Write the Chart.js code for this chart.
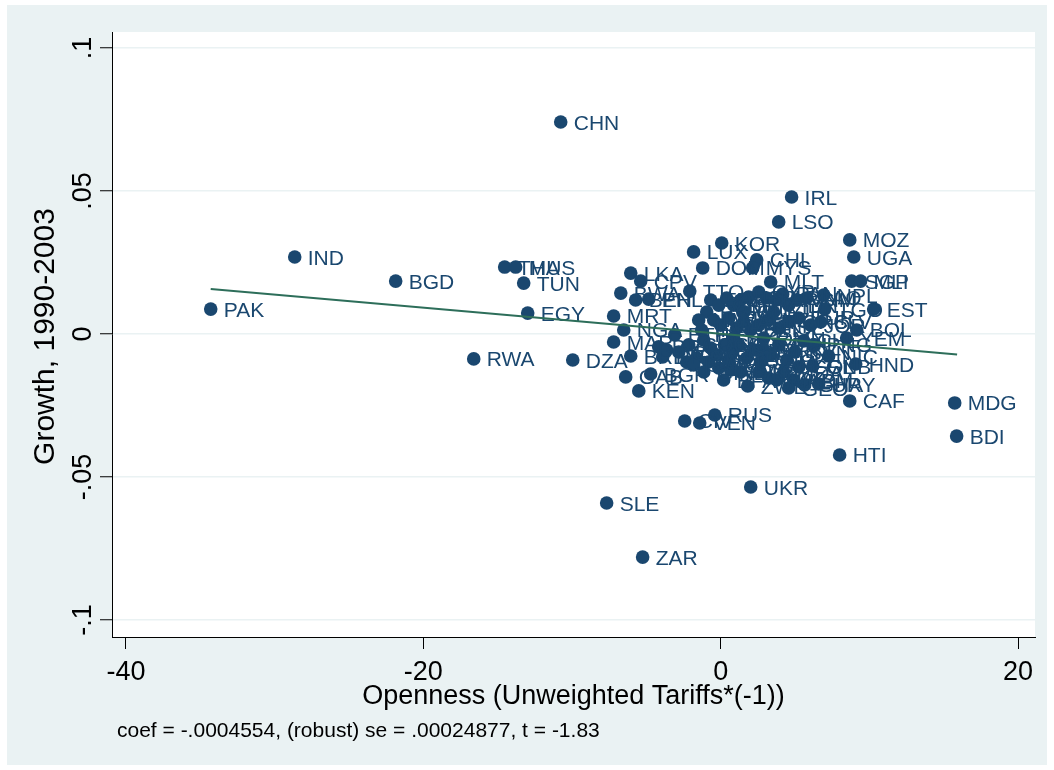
<!DOCTYPE html>
<html>
<head>
<meta charset="utf-8">
<script src="https://cdn.jsdelivr.net/npm/chart.js@4/dist/chart.umd.min.js"></script>
<style>
  html, body { margin: 0; padding: 0; background: #ffffff; }
  #wrap { width: 1054px; height: 770px; }
</style>
</head>
<body>
<div id="wrap"><canvas id="c" width="1054" height="770"></canvas></div>
<script>
// Country codes, openness (unweighted tariffs * -1, residualised) and growth 1990-2003
const countryCodes = [
  'CHN','IRL','LSO','MOZ','UGA','IND','BGD','PAK','THA','MUS',
  'TUN','EGY','RWA','DZA','SLE','ZAR','UKR','HTI','MDG','BDI',
  'CAF','RUS','CIV','VEN','KEN','GAB','BGR','BRB','PRY','MAR',
  'BRA','NGA','MRT','BWA','LKA','CPV','BEN','PHL','TTO','LUX',
  'KOR','DOM','CHL','MYS','MLT','SGP','MLI','NPL','EST','TGO',
  'SLV','BOL','YEM','NIC','HND','GNB','COL','URY','GHA','ZWE',
  'GMB','ROM','SVK','CHE','PAN',
  'FRA','GBR','AUS','NOR','FIN','ISR','CYP','NLD','ARG','IDN',
  'VNM','LAO','USA','CAN','ESP','PRT','AUT','BEL','DNK','NZL',
  'ISL','GRC','TUR','JOR','DEU','JPN','SWE','MEX','CRI','GTM',
  'ECU','PER','JAM','HUN','POL','CZE','SVN','HRV','LVA','LTU',
  'BLR','KAZ','KGZ','MDA','ARM','GEO','IRN','SYR','OMN','PNG',
  'NER','CMR','COG','MWI','TZA','ETH','NAM','SWZ','GIN','FJI',
  'GUY','BFA','MKD'
];
const openness = [
  -10.76, 4.77, 3.90, 8.68, 8.95, -28.65, -21.86, -34.30, -14.53, -13.79,
  -13.25, -12.98, -16.61, -9.95, -7.67, -5.25, 2.02, 8.00, 15.74, 15.87,
  8.68, -0.40, -2.42, -1.41, -5.51, -6.39, -4.71, -6.05, -3.90, -7.20,
  -4.17, -6.52, -7.20, -6.72, -6.05, -5.38, -5.72, -4.84, -2.08, -1.82,
  0.07, -1.21, 2.42, 2.15, 3.36, 8.81, 9.41, 6.93, 10.29, 6.99,
  6.72, 9.15, 8.47, 7.26, 9.08, 6.19, 5.25, 6.59, 5.65, 1.82,
  0.67, -0.94, 2.89, 5.58, 4.17,
  -0.67, -0.13, 0.40, 0.87, 1.34, 1.88, 2.56, 3.09, 3.77, 4.57,
  5.11, 5.78, -0.47, 0.00, 0.54, 1.08, 1.55, 2.02, 2.56, 3.23,
  3.90, 4.57, 5.25, 6.05, -1.14, -0.67, -0.27, 0.27, 0.81, 1.21,
  1.75, 2.29, 2.69, 3.36, 3.90, 4.44, 4.98, -0.81, -0.13, 0.54,
  1.34, 2.56, 3.23, 4.24, 4.91, 4.57, -1.28, 0.87, 2.89, 6.25,
  -3.63, -2.82, -2.15, -1.61, -2.29, -3.09, -1.48, -1.82, -1.14, 3.56,
  1.55, 0.20, 3.77
];
const growth = [
  0.0741, 0.0479, 0.0392, 0.0329, 0.0269, 0.0269, 0.0185, 0.0087, 0.0234, 0.0234,
  0.0178, 0.0073, -0.0087, -0.0091, -0.0591, -0.0780, -0.0535, -0.0423, -0.0241, -0.0357,
  -0.0234, -0.0283, -0.0304, -0.0311, -0.0199, -0.0150, -0.0140, -0.0077, -0.0080, -0.0028,
  -0.0045, 0.0014, 0.0063, 0.0143, 0.0213, 0.0185, 0.0119, 0.0122, 0.0150, 0.0287,
  0.0318, 0.0231, 0.0259, 0.0231, 0.0182, 0.0185, 0.0185, 0.0136, 0.0087, 0.0087,
  0.0042, 0.0014, -0.0014, -0.0077, -0.0105, -0.0112, -0.0115, -0.0175, -0.0178, -0.0182,
  -0.0126, 0.0077, -0.0056, -0.0024, 0.0140,
  0.0119, 0.0101, 0.0126, 0.0101, 0.0119, 0.0129, 0.0147, 0.0126, 0.0119, 0.0101,
  0.0119, 0.0126, 0.0049, 0.0031, 0.0056, 0.0021, 0.0042, 0.0014, 0.0031, 0.0049,
  0.0021, 0.0042, 0.0056, 0.0031, -0.0021, -0.0049, -0.0073, -0.0038, -0.0063, -0.0038,
  -0.0084, -0.0056, -0.0098, -0.0073, -0.0038, -0.0091, -0.0063, -0.0098, -0.0119, -0.0091,
  -0.0133, -0.0133, -0.0154, -0.0133, -0.0161, -0.0189, 0.0014, -0.0014, -0.0014, -0.0038,
  -0.0056, -0.0063, -0.0038, -0.0084, -0.0098, -0.0003, 0.0049, -0.0108, -0.0133, 0.0077,
  0.0077, -0.0161, -0.0161
];

// Fitted regression line end points
const fitOpenness = [-34.30, 15.90];
const fitGrowth = [0.0157, -0.0072];

// Axis ticks
const xTickValues = [-40, -20, 0, 20];
const xTickLabels = ['-40', '-20', '0', '20'];
const yTickValues = [-0.1, -0.05, 0, 0.05, 0.1];
const yTickLabels = ['-.1', '-.05', '0', '.05', '.1'];

const xTitle = 'Openness (Unweighted Tariffs*(-1))';
const yTitle = 'Growth, 1990-2003';
const noteText = 'coef = -.0004554, (robust) se = .00024877, t = -1.83';

const NAVY = '#1a476f';
const LINE_GREEN = '#2d6e5a';
const PANEL = '#eaf2f3';
const FONT = '"Liberation Sans", Arial, sans-serif';

const scatterPoints = countryCodes.map((c, i) => ({ x: openness[i], y: growth[i] }));
const fitPoints = fitOpenness.map((x, i) => ({ x: x, y: fitGrowth[i] }));

const SCATTER_INDEX = 1;

const backgroundPlugin = {
  id: 'panelBackground',
  beforeDraw(chart) {
    const { ctx, chartArea: a } = chart;
    ctx.save();
    ctx.fillStyle = '#ffffff';
    ctx.fillRect(0, 0, chart.width, chart.height);
    ctx.fillStyle = PANEL;
    ctx.fillRect(7, 5, 1040, 760);
    ctx.fillStyle = '#ffffff';
    ctx.fillRect(a.left, a.top, a.right - a.left, a.bottom - a.top);
    ctx.restore();
  }
};

const markerLabelPlugin = {
  id: 'markerLabels',
  afterDatasetDraw(chart, args) {
    if (args.index !== SCATTER_INDEX) return;
    const { ctx } = chart;
    ctx.save();
    ctx.font = '21px ' + FONT;
    ctx.fillStyle = NAVY;
    ctx.textAlign = 'left';
    ctx.textBaseline = 'alphabetic';
    args.meta.data.forEach((el, i) => {
      ctx.fillText(countryCodes[i], el.x + 13, el.y + 7.5);
    });
    ctx.restore();
  }
};

const axisTextPlugin = {
  id: 'axisText',
  afterDraw(chart) {
    const { ctx, chartArea: a } = chart;
    const xs = chart.scales.x, ys = chart.scales.y;
    ctx.save();
    ctx.fillStyle = '#000000';
    ctx.font = '27px ' + FONT;
    ctx.textAlign = 'center';
    ctx.textBaseline = 'alphabetic';
    // x tick labels
    xTickValues.forEach((v, i) => {
      ctx.fillText(xTickLabels[i], xs.getPixelForValue(v), 680);
    });
    // y tick labels, rotated
    yTickValues.forEach((v, i) => {
      ctx.save();
      ctx.translate(91, ys.getPixelForValue(v));
      ctx.rotate(-Math.PI / 2);
      ctx.fillText(yTickLabels[i], 0, 0);
      ctx.restore();
    });
    // axis titles
    ctx.fillText(xTitle, (a.left + a.right) / 2, 704);
    ctx.save();
    ctx.font = '30px ' + FONT;
    ctx.translate(54, (a.top + a.bottom) / 2 + 2);
    ctx.rotate(-Math.PI / 2);
    ctx.fillText(yTitle, 0, 0);
    ctx.restore();
    // note
    ctx.font = '21px ' + FONT;
    ctx.textAlign = 'left';
    ctx.fillText(noteText, 117, 737);
    ctx.restore();
  }
};

new Chart(document.getElementById('c'), {
  type: 'scatter',
  data: {
    datasets: [
      {
        type: 'line',
        data: fitPoints,
        borderColor: LINE_GREEN,
        borderWidth: 2,
        pointRadius: 0,
        fill: false,
        tension: 0
      },
      {
        data: scatterPoints,
        backgroundColor: NAVY,
        borderWidth: 0,
        pointRadius: 6.8,
        pointHoverRadius: 6.8
      }
    ]
  },
  options: {
    responsive: false,
    animation: false,
    devicePixelRatio: 1,
    layout: { padding: { left: 0, top: 32, right: 19, bottom: 0 } },
    plugins: { legend: { display: false }, tooltip: { enabled: false } },
    events: [],
    scales: {
      x: {
        type: 'linear',
        min: -40.94,
        max: 21.14,
        afterBuildTicks(s) { s.ticks = xTickValues.map(v => ({ value: v })); },
        afterFit(s) { s.height = 133; },
        ticks: { display: false },
        grid: { drawOnChartArea: false, drawTicks: true, tickLength: 12, tickColor: '#000000', tickWidth: 1 },
        border: { display: true, color: '#000000', width: 1 }
      },
      y: {
        type: 'linear',
        min: -0.10594,
        max: 0.10559,
        afterBuildTicks(s) { s.ticks = yTickValues.map(v => ({ value: v })); },
        afterFit(s) { s.width = 112; },
        ticks: { display: false },
        grid: { color: PANEL, lineWidth: 1.5, drawTicks: true, tickLength: 12, tickColor: '#000000', tickWidth: 1 },
        border: { display: true, color: '#000000', width: 1 }
      }
    }
  },
  plugins: [backgroundPlugin, markerLabelPlugin, axisTextPlugin]
});
</script>
</body>
</html>
